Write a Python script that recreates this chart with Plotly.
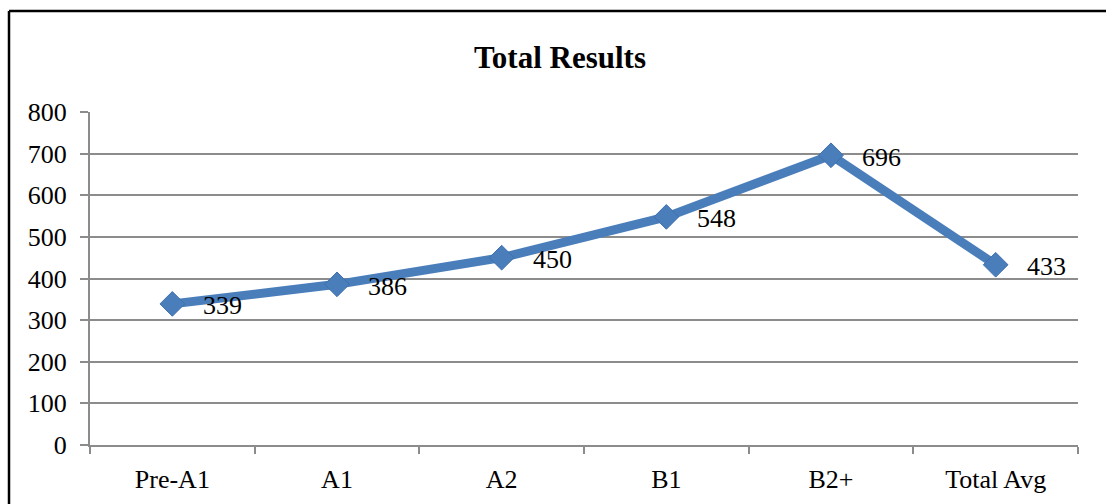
import plotly.graph_objects as go

# Score averages by level
levels = ["Pre-A1", "A1", "A2", "B1", "B2+", "Total Avg"]
scores = [339, 386, 450, 548, 696, 433]
y_ticks = [0, 100, 200, 300, 400, 500, 600, 700, 800]

BLUE = "#4a7ebb"
GRID = "#8c8c8c"
FONT = "Liberation Serif"

W, H = 1106, 504
L, R, T, B = 90, 28, 112, 59
pw, ph = W - L - R, H - T - B

fig = go.Figure()
fig.add_trace(go.Scatter(
    x=levels, y=scores,
    mode="lines+markers",
    line=dict(color=BLUE, width=9),
    marker=dict(symbol="diamond", size=19, color=BLUE,
                line=dict(color="#3f6fae", width=1)),
    hoverinfo="x+y",
    showlegend=False,
))

# Value labels to the right of each point
for lvl, val in zip(levels, scores):
    fig.add_annotation(x=lvl, y=val, text=str(val), showarrow=False,
                       xanchor="left", yanchor="middle", xshift=29, yshift=-2,
                       font=dict(family=FONT, size=26, color="black"))

# Frame lines around the chart area (left and top edges)
fx0 = (9 - L) / pw
fy1 = 1 + (T - 11) / ph
fig.add_shape(type="line", xref="paper", yref="paper",
              x0=fx0, x1=fx0, y0=-0.5, y1=fy1,
              line=dict(color="black", width=2.5))
fig.add_shape(type="line", xref="paper", yref="paper",
              x0=fx0, x1=1.2, y0=fy1, y1=fy1,
              line=dict(color="black", width=2.5))

fig.update_layout(
    width=W, height=H,
    margin=dict(l=L, r=R, t=T, b=B),
    paper_bgcolor="white", plot_bgcolor="white",
    font=dict(family=FONT, size=26, color="black"),
    title=dict(text="<b>Total Results</b>", x=560 / W, xanchor="center",
               y=1 - 57 / H, yanchor="middle", yref="container",
               font=dict(family=FONT, size=31, color="black")),
    xaxis=dict(
        type="category", range=[-0.5, len(levels) - 0.5],
        showgrid=False, showline=True, linecolor=GRID, linewidth=2,
        ticks="outside", tickson="boundaries", ticklen=7, tickcolor=GRID, tickwidth=2,
        ticklabelstandoff=10, automargin=False,
        tickfont=dict(family=FONT, size=26, color="black"),
        fixedrange=True,
    ),
    yaxis=dict(
        range=[0, 800], tickvals=y_ticks,
        showgrid=True, gridcolor=GRID, gridwidth=2,
        showline=True, linecolor=GRID, linewidth=2,
        ticks="outside", ticklen=8, tickcolor=GRID, tickwidth=2,
        ticklabelstandoff=8, automargin=False,
        tickfont=dict(family=FONT, size=26, color="black"),
        zeroline=False, fixedrange=True,
    ),
)

fig.write_html("out.html")
